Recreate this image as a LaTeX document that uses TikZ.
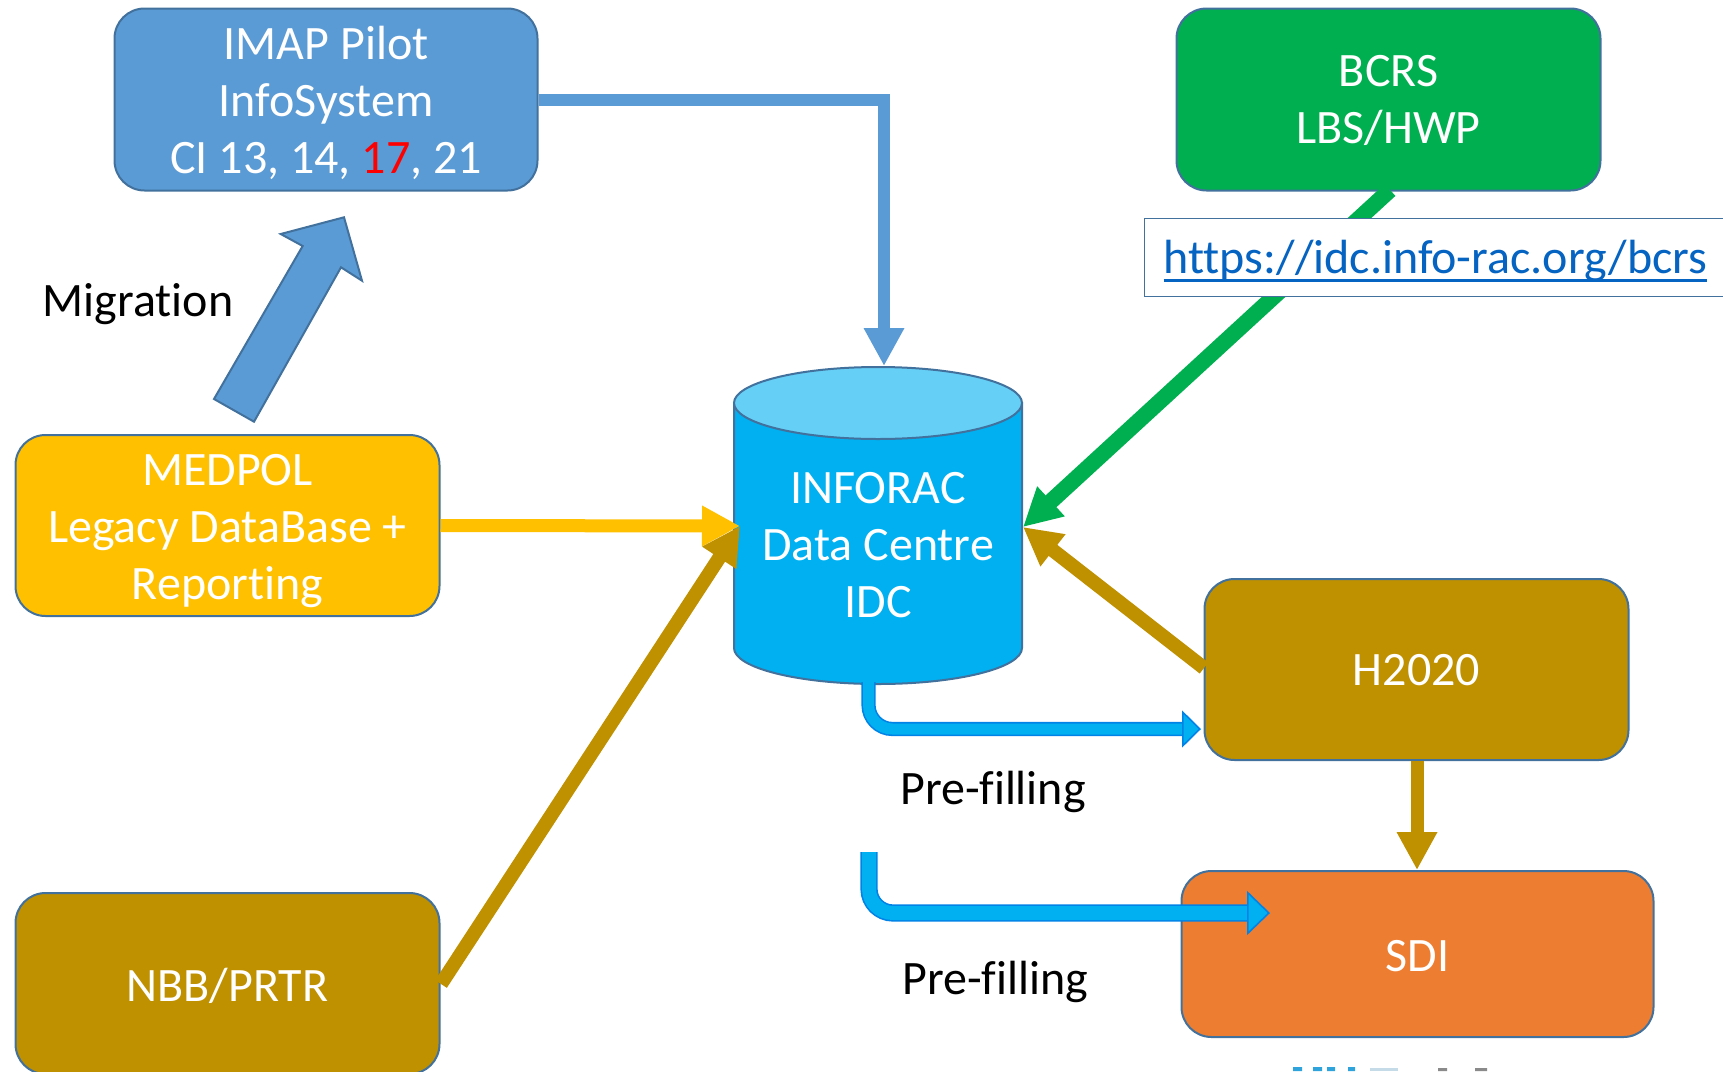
\documentclass[tikz,border=0pt]{standalone}
\usepackage{fontspec}
\setmainfont[Ligatures=NoCommon]{Carlito}
\usetikzlibrary{arrows.meta}
\definecolor{bluefill}{HTML}{5B9BD5}
\definecolor{edgeblue}{HTML}{41719C}
\definecolor{greenfill}{HTML}{00B050}
\definecolor{yellowfill}{HTML}{FFC000}
\definecolor{olivefill}{HTML}{BF9000}
\definecolor{orangefill}{HTML}{ED7D31}
\definecolor{cyanfill}{HTML}{00B0F0}
\definecolor{cyantop}{HTML}{66CFF6}
\definecolor{cyanedge}{HTML}{0082E6}
\definecolor{linkblue}{HTML}{0563C1}
\definecolor{logoblue}{HTML}{2FA4DC}
\definecolor{logolight}{HTML}{C5DCE8}
\definecolor{logogrey}{HTML}{8A8A8A}
\newcommand{\topup}[1]{\rule{0pt}{#1pt}}
\newcommand{\linkline}[1]{\setbox0\hbox{#1}\rlap{\rule[-8pt]{\wd0}{3pt}}\box0 }
\tikzset{
  x=1pt,y=-1pt,
  every node/.style={font=\fontsize{48}{57.3}\selectfont},
  boxnode/.style={draw=edgeblue,line width=2pt,rounded corners=30pt,text=white,align=center,inner sep=0pt,anchor=north west},
  conn/.style={line width=#1,-{Triangle[length=38pt,width=38pt]}},
  bent/.style={rounded corners=24pt,draw=cyanedge,line width=1.6pt,double=cyanfill,double distance=#1},
}
\begin{document}
\begin{tikzpicture}
\useasboundingbox (0,0) rectangle (1723,1071);
% boxes
\node[boxnode,fill=bluefill,minimum width=423pt,minimum height=182pt] (imap) at (113.5,7.5) {\topup{40}IMAP Pilot\\InfoSystem\\CI 13, 14, \textcolor{red}{17}, 21};
\node[boxnode,fill=greenfill,minimum width=424pt,minimum height=182pt] (bcrs) at (1175.5,7.5) {\topup{33}BCRS\\LBS/HWP};
\node[boxnode,fill=yellowfill,minimum width=424pt,minimum height=181pt] (medpol) at (14.5,434) {\topup{42}MEDPOL\\Legacy DataBase +\\Reporting};
\node[boxnode,fill=olivefill,minimum width=424pt,minimum height=181pt] (h2020) at (1203.5,578) {\topup{33}H2020};
\node[boxnode,fill=orangefill,minimum width=472pt,minimum height=166pt] (sdi) at (1180.5,870) {\topup{35}SDI};
\begin{scope}
\clip (0,0) rectangle (1723,1071);
\node[boxnode,fill=olivefill,minimum width=424pt,minimum height=181pt] (nbb) at (14.5,892) {\topup{39}NBB/PRTR};
\end{scope}
% cylinder
\draw[draw=edgeblue,line width=2pt,fill=cyanfill] (734,403) -- (734,648) arc[start angle=180,end angle=360,x radius=144,y radius=-36] -- (1022,403) -- cycle;
\draw[draw=edgeblue,line width=2pt,fill=cyantop] (878,403) ellipse[x radius=144,y radius=36];
\node[text=white,align=center,inner sep=0pt] (idc) at (878,545) {INFORAC\\Data Centre\\IDC};
% anchors on the cylinder
\coordinate (idctop) at (884,366);
\coordinate (idcleft) at (740,526);
\coordinate (idcright) at (1023,527);
\coordinate (idcbot) at (868.5,682);
% connectors
\draw[conn=12pt,bluefill] (imap.east) -| (idctop);
\draw[conn=13pt,yellowfill] (medpol.east) -- (idcleft);
\coordinate (nbbout) at (441,984);
\draw[conn=14pt,olivefill] (nbbout) -- (idcleft);
\coordinate (bcrsout) at (1390,190);
\draw[conn=16pt,greenfill] (bcrsout) -- (idcright);
\coordinate (h2020out) at (1204,668);
\draw[conn=14pt,olivefill] (h2020out) -- (idcright);
\draw[conn=13pt,olivefill] (h2020.south -| 1417,759) -- (sdi.north -| 1417,870);
% pre-filling arrows
\coordinate (ah) at (1201,729);
\draw[bent=11pt,-{Triangle[length=19pt,width=37pt,fill=cyanfill,color=cyanedge,line width=1.6pt]}] (idcbot) |- (ah);
\coordinate (bs) at (869,852);
\coordinate (bh) at (1270,913);
\draw[bent=14pt,-{Triangle[length=23pt,width=44pt,fill=cyanfill,color=cyanedge,line width=1.6pt]}] (bs) |- (bh);
% labels
\node[inner sep=0pt] (mig) at (138,304.5) {Migration};
\node[inner sep=0pt] (pf1) at (993,792) {Pre-filling};
\node[inner sep=0pt] (pf2) at (995.5,982) {Pre-filling};
% migration block arrow
\filldraw[draw=edgeblue,line width=2pt,fill=bluefill,line join=miter] (280.7,234) -- (344,217.3) -- (362,280.7) -- (341,267.3) -- (254,421.7) -- (214,399) -- (302.7,246) -- cycle;
% url box
\node[draw=edgeblue,line width=1pt,fill=white,anchor=north west,inner sep=0pt,minimum width=579pt,minimum height=78pt,text=linkblue,text height=34pt,text depth=2pt,xshift=0pt] (url) at (1144,218) {\hspace{3pt}\linkline{https://idc.info-rac.org/bcrs}};
% cut-off logo at the bottom edge
\fill[logoblue] (1293,1067) rectangle (1302,1071) (1313,1067) rectangle (1322,1071) (1327,1067) rectangle (1335,1071) (1348,1067) rectangle (1355,1071);
\fill[logolight] (1370,1068) rectangle (1398,1071);
\fill[logogrey] (1438,1068) rectangle (1447,1071) (1475,1068) rectangle (1487,1071);
\end{tikzpicture}
\end{document}
